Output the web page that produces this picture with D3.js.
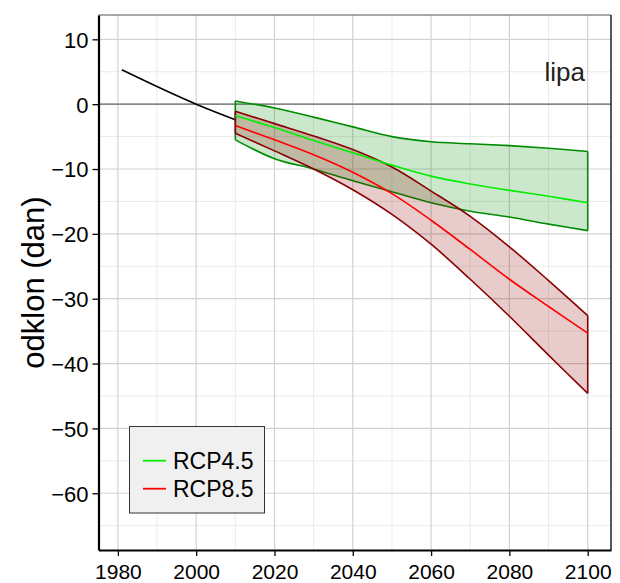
<!DOCTYPE html>
<html>
<head>
<meta charset="utf-8">
<script src="https://cdn.jsdelivr.net/npm/d3@7"></script>
<style>
  html, body { margin: 0; padding: 0; background: #fff; }
  svg { display: block; font-family: "Liberation Sans", Arial, Helvetica, sans-serif; }
</style>
</head>
<body>
<svg id="chart" width="620" height="583"></svg>
<script>
// Observed trend line (black)
const obsYears = [1981, 2000, 2010];
const obsValues = [5.3, 0.0, -2.4];

// Projection years
const years = [2010, 2020, 2030, 2040, 2050, 2060, 2070, 2080, 2090, 2100];

// RCP4.5 envelope and mean
const rcp45Upper = [0.5, -0.6, -2.0, -3.5, -5.0, -5.8, -6.1, -6.4, -6.8, -7.3];
const rcp45Mean  = [-1.8, -3.6, -5.6, -7.5, -9.4, -11.1, -12.3, -13.3, -14.2, -15.2];
const rcp45Lower = [-5.5, -8.4, -10.0, -11.8, -13.5, -15.2, -16.5, -17.4, -18.5, -19.5];

// RCP8.5 envelope and mean
const rcp85Upper = [-1.1, -3.0, -4.9, -7.0, -9.7, -13.4, -17.3, -22.0, -27.2, -32.6];
const rcp85Mean  = [-3.3, -5.5, -7.8, -10.5, -13.8, -17.9, -22.4, -27.0, -31.2, -35.3];
const rcp85Lower = [-4.5, -7.2, -10.0, -13.2, -17.0, -21.6, -27.0, -32.7, -38.7, -44.6];

// Axis ticks
const xTicks = [1980, 2000, 2020, 2040, 2060, 2080, 2100];
const xMinor = [1990, 2010, 2030, 2050, 2070, 2090];
const yTicks = [-60, -50, -40, -30, -20, -10, 0, 10];
const yMinor = [-65, -55, -45, -35, -25, -15, -5, 5];

const seriesNames = ["RCP4.5", "RCP8.5"];
const panelLabel = "lipa";
const yTitle = "odklon (dan)";

const svg = d3.select("#chart");
const m = { left: 98.5, right: 611, top: 15, bottom: 550 };

const x = d3.scaleLinear().domain([1975.05, 2105.95]).range([m.left, m.right]);
const y = d3.scaleLinear().domain([-68.75, 13.75]).range([m.bottom, m.top]);

// Grid
const grid = svg.append("g");
grid.selectAll(".vmin").data(xMinor).join("line")
  .attr("x1", d => x(d)).attr("x2", d => x(d))
  .attr("y1", m.top).attr("y2", m.bottom)
  .attr("stroke", "#ebebeb").attr("stroke-width", 1);
grid.selectAll(".hmin").data(yMinor).join("line")
  .attr("y1", d => y(d)).attr("y2", d => y(d))
  .attr("x1", m.left).attr("x2", m.right)
  .attr("stroke", "#ebebeb").attr("stroke-width", 1);
grid.selectAll(".vmaj").data(xTicks).join("line")
  .attr("x1", d => x(d)).attr("x2", d => x(d))
  .attr("y1", m.top).attr("y2", m.bottom)
  .attr("stroke", "#d2d2d2").attr("stroke-width", 1.2);
grid.selectAll(".hmaj").data(yTicks).join("line")
  .attr("y1", d => y(d)).attr("y2", d => y(d))
  .attr("x1", m.left).attr("x2", m.right)
  .attr("stroke", "#d2d2d2").attr("stroke-width", 1.2);

// Zero reference line
svg.append("line")
  .attr("x1", m.left).attr("x2", m.right)
  .attr("y1", y(0)).attr("y2", y(0))
  .attr("stroke", "#6a6a6a").attr("stroke-width", 1.4);

// Observed trend
const obs = obsYears.map((d, i) => [d, obsValues[i]]);
svg.append("path")
  .attr("d", d3.line().x(d => x(d[0])).y(d => y(d[1])).curve(d3.curveMonotoneX)(obs))
  .attr("fill", "none").attr("stroke", "#000").attr("stroke-width", 1.6);

const curve = d3.curveCatmullRom.alpha(0.5);
function band(upper, lower, fill, stroke) {
  const rows = years.map((yr, i) => ({ yr, hi: upper[i], lo: lower[i] }));
  const area = d3.area().x(d => x(d.yr)).y0(d => y(d.lo)).y1(d => y(d.hi)).curve(curve);
  svg.append("path").attr("d", area(rows))
    .attr("fill", fill).attr("stroke", "none");
  // outline: upper edge, lower edge and the two vertical ends
  const ln = d3.line().x(d => x(d[0])).y(d => y(d[1])).curve(curve);
  const g = svg.append("g").attr("fill", "none").attr("stroke", stroke)
    .attr("stroke-width", 1.6).attr("stroke-linejoin", "round");
  g.append("path").attr("d", ln(years.map((yr, i) => [yr, upper[i]])));
  g.append("path").attr("d", ln(years.map((yr, i) => [yr, lower[i]])));
  [0, years.length - 1].forEach(i => {
    g.append("line")
      .attr("x1", x(years[i])).attr("x2", x(years[i]))
      .attr("y1", y(upper[i])).attr("y2", y(lower[i]));
  });
}
function meanLine(vals, color) {
  const ln = d3.line().x(d => x(d[0])).y(d => y(d[1])).curve(curve);
  svg.append("path").attr("d", ln(years.map((yr, i) => [yr, vals[i]])))
    .attr("fill", "none").attr("stroke", color).attr("stroke-width", 1.6);
}

band(rcp45Upper, rcp45Lower, "rgba(0,139,0,0.2)", "#008b00");
band(rcp85Upper, rcp85Lower, "rgba(139,0,0,0.2)", "#8b0000");
meanLine(rcp45Mean, "#00ee00");
meanLine(rcp85Mean, "#ff0000");

// Panel border
svg.append("line").attr("x1", m.left).attr("x2", m.right).attr("y1", m.top).attr("y2", m.top)
  .attr("stroke", "#555").attr("stroke-width", 1);
svg.append("line").attr("x1", m.right).attr("x2", m.right).attr("y1", m.top).attr("y2", m.bottom)
  .attr("stroke", "#111").attr("stroke-width", 1.4);

// Axes
const minusFmt = d => (d < 0 ? "\u2212" + Math.abs(d) : String(d));
const xAxis = svg.append("g").attr("transform", `translate(0,${m.bottom})`)
  .call(d3.axisBottom(x).tickValues(xTicks).tickFormat(d3.format("d")).tickSize(6).tickSizeOuter(0));
const yAxis = svg.append("g").attr("transform", `translate(${m.left},0)`)
  .call(d3.axisLeft(y).tickValues(yTicks).tickFormat(minusFmt).tickSize(6).tickSizeOuter(0));
[xAxis, yAxis].forEach(a => {
  a.select(".domain").attr("stroke", "#000").attr("stroke-width", 2.2);
  a.selectAll(".tick line").attr("stroke", "#000").attr("stroke-width", 1.3);
  a.selectAll(".tick text").attr("fill", "#000").attr("font-size", 22)
    .attr("font-family", "Liberation Sans, Arial, sans-serif");
});
xAxis.selectAll(".tick text").attr("font-size", 21).attr("dy", null).attr("y", 28.5);
yAxis.selectAll(".tick text").attr("x", -10).attr("dy", "0.36em");

// Y title
svg.append("text")
  .attr("transform", `translate(44,${(m.top + m.bottom) / 2}) rotate(-90)`)
  .attr("text-anchor", "middle")
  .attr("font-size", 31)
  .attr("fill", "#000")
  .text(yTitle);

// Panel label
svg.append("text")
  .attr("x", 585).attr("y", 81)
  .attr("text-anchor", "end")
  .attr("font-size", 26)
  .attr("fill", "#222")
  .text(panelLabel);

// Legend
const lg = svg.append("g");
lg.append("rect")
  .attr("x", 129.5).attr("y", 426.5).attr("width", 135).attr("height", 86.5)
  .attr("fill", "#f0f0f0").attr("stroke", "#333").attr("stroke-width", 1);
const legendColors = ["#00ee00", "#ff0000"];
seriesNames.forEach((name, i) => {
  const cy = 460.7 + i * 28;
  lg.append("line").attr("x1", 143).attr("x2", 166).attr("y1", cy).attr("y2", cy)
    .attr("stroke", legendColors[i]).attr("stroke-width", 1.8);
  lg.append("text").attr("x", 173).attr("y", cy).attr("dy", "0.36em")
    .attr("font-size", 23).attr("fill", "#000").text(name);
});
</script>
</body>
</html>
